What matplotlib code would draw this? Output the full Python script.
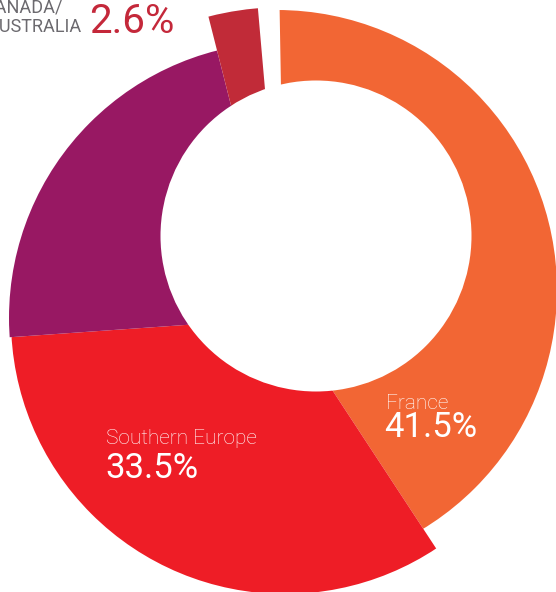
import matplotlib
matplotlib.use("Agg")
import matplotlib.pyplot as plt
from matplotlib.patches import Wedge, Circle

# share of each region (%), clockwise from the top
regions = ["France", "Southern Europe", "Other", "Canada/Australia"]
shares = [41.5, 33.5, 22.4, 2.6]
colors = ["#F26634", "#EE1D26", "#981863", "#C12B38"]

W, H = 556, 592


def px(x, y):
    # image pixel coords (y down) -> axes coords (y up)
    return (x, H - y)


fig = plt.figure(figsize=(W / 100, H / 100), dpi=100)
ax = fig.add_axes([0, 0, 1, 1])
ax.set_xlim(0, W)
ax.set_ylim(0, H)
ax.set_aspect("equal")
ax.axis("off")

# pie vertex, and the arc of each piece (centre, radius) - the rings are not concentric
vertex = px(285, 318)
arcs = [(px(277, 290), 280), (px(285, 320), 274), (px(285, 318), 276), (px(285, 318), 311)]

gap = 4.0
scale = (360.0 - gap) / sum(shares)
start = 91.0
for share, col, (c, r) in zip(shares, colors, arcs):
    end = start - share * scale
    clip = Wedge(vertex, 600, end, start, transform=ax.transData)
    piece = Circle(c, r, color=col, lw=0)
    ax.add_patch(piece)
    piece.set_clip_path(clip)
    start = end

# hole
ax.add_patch(Circle(px(316, 236), 155.5, color="white", lw=0))

lab = dict(family=["Roboto", "DejaVu Sans"], color="white", ha="left", va="baseline")
ax.text(*px(386, 409), "France", fontsize=15, fontweight="light", **lab)
ax.text(*px(384, 437), f"{shares[0]}%", fontsize=25, **lab)
ax.text(*px(106, 443.5), "Southern Europe", fontsize=15, fontweight="light", **lab)
ax.text(*px(105, 478), f"{shares[1]}%", fontsize=25, **lab)

# grey label, partly off the left edge as in the source crop
grey = dict(family=["Roboto", "DejaVu Sans"],
            color="#6C6A6F", ha="right", va="baseline", fontsize=13)
ax.text(*px(62, 12.5), "CANADA/", **grey)
ax.text(*px(82, 32), "AUSTRALIA", **grey)
ax.text(*px(89, 33), f"{shares[3]}%", family=["Roboto", "DejaVu Sans"],
        color="#C4283A", fontsize=29, ha="left", va="baseline")

fig.savefig("out.png", dpi=100, facecolor="white")
